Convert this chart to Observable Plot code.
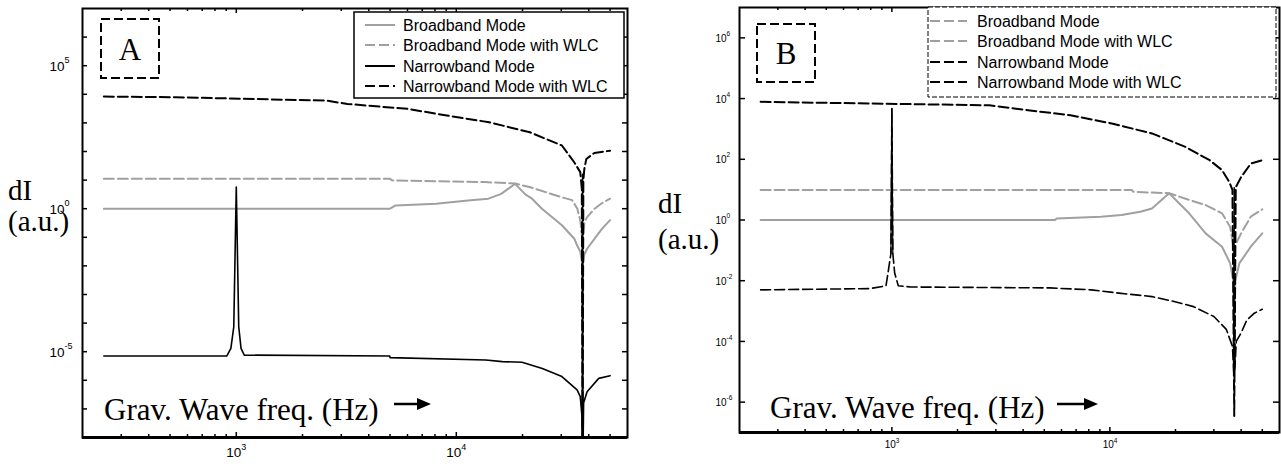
<!DOCTYPE html>
<html><head><meta charset="utf-8">
<script src="https://cdn.jsdelivr.net/npm/d3@7"></script>
<script src="https://cdn.jsdelivr.net/npm/@observablehq/plot@0.6"></script>
<style>
body{margin:0;background:#fff;}
#wrap{position:relative;width:1281px;height:468px;overflow:hidden;background:#fff;}
#wrap > svg{position:absolute;top:0;}
</style></head><body><div id="wrap"></div>
<script>
// ---------- data (frequency in Hz, dI in a.u.) ----------
const seriesNames = ["Broadband Mode", "Broadband Mode with WLC", "Narrowband Mode", "Narrowband Mode with WLC"];

// Panel A
const aBroadF = [250, 5000, 5300, 8100, 11300, 14000, 16000, 18500, 20600, 22100, 24500, 30200, 34400, 35400, 36600, 37300, 37500, 37700, 38200, 39300, 46000, 50000];
const aBroadV = [1, 1, 1.3, 1.48, 1.95, 2.24, 3.31, 7.41, 3.16, 2.24, 1.0, 0.263, 0.089, 0.0525, 0.0316, 0.0126, 7.1e-5, 0.0126, 0.0251, 0.0398, 0.2, 0.398];

const aBroadWlcF = [250, 5000, 5100, 13500, 18500, 21500, 25500, 30200, 33600, 35500, 36600, 37300, 37500, 37700, 38200, 39300, 42500, 46000, 50000];
const aBroadWlcV = [11.1, 11.1, 9.8, 8.5, 7.6, 5.75, 3.8, 2.5, 2.0, 1.0, 0.39, 0.1, 0.016, 0.1, 0.32, 0.51, 1.0, 1.58, 2.24];

const aNarrowF = [250, 906, 945, 974, 1000, 1026, 1051, 1087, 4980, 5000, 13600, 16200, 19900, 24600, 30200, 35400, 36600, 37200, 37400, 37500, 37600, 37900, 39300, 44400, 50000];
const aNarrowV = [7.1e-6, 7.1e-6, 1.3e-5, 7.4e-5, 5.75, 7.4e-5, 1.3e-5, 7.6e-6, 7.1e-6, 6.2e-6, 5.1e-6, 4.5e-6, 4.3e-6, 2.6e-6, 1.35e-6, 4.6e-7, 2.7e-7, 6.3e-8, 1e-9, 16, 1e-9, 1.6e-7, 4e-7, 1.17e-6, 1.45e-6];

const aNarrowWlcF = [250, 530, 2570, 3200, 6000, 9200, 14100, 21600, 30200, 34300, 36600, 37200, 37500, 37800, 38200, 39000, 42400, 50000];
const aNarrowWlcV = [8300, 7900, 6000, 4600, 3100, 1780, 1050, 470, 162, 43, 19, 5, 1e-9, 10, 25, 55, 89, 107];

// Panel B
const bBroadF = [250, 5600, 5700, 9100, 11300, 13800, 15600, 18700, 23100, 27500, 32700, 35600, 36800, 37200, 37600, 39300, 44300, 50000];
const bBroadV = [1, 1, 1.12, 1.29, 1.45, 1.86, 2.4, 7.6, 1.66, 0.363, 0.132, 0.038, 0.01, 1.15e-4, 0.01, 0.038, 0.132, 0.363];

const bBroadWlcF = [250, 12600, 12800, 18700, 23100, 27500, 32700, 35600, 36800, 37200, 37600, 40000, 44300, 50000];
const bBroadWlcV = [9.8, 9.8, 8.5, 7.6, 4.6, 3.1, 1.66, 0.6, 0.15, 0.03, 0.15, 0.363, 1.29, 2.24];

const bNarrowF = [250, 794, 940, 960, 990, 1000, 1010, 1030, 1070, 1220, 5300, 8200, 11000, 15600, 19500, 24200, 30000, 34200, 36500, 37000, 37200, 37400, 38000, 40000, 42500, 46000, 50000];
const bNarrowV = [0.005, 0.0055, 0.0068, 0.018, 0.079, 4700, 0.079, 0.018, 0.0068, 0.0062, 0.0058, 0.005, 0.0039, 0.003, 0.0021, 0.0014, 6.6e-4, 2.5e-4, 6.9e-5, 1e-5, 12, 1e-5, 1e-4, 1.9e-4, 5.1e-4, 8.5e-4, 1.15e-3];

const bNarrowWlcF = [250, 2800, 4300, 6600, 10200, 15600, 22200, 28700, 32700, 35300, 36500, 37200, 37800, 40000, 44300, 50000];
const bNarrowWlcV = [7800, 6000, 4070, 2820, 1510, 710, 257, 93, 44, 18, 9.8, 3.5e-7, 12, 26, 72, 93];

// Ticks and tick labels
const xMinorTicks = [300, 400, 500, 600, 700, 800, 900, 2000, 3000, 4000, 5000, 6000, 7000, 8000, 9000, 20000, 30000, 40000, 50000];
const xMajorTicks = [1000, 10000];
const xLabelValues = [1000, 10000];
const xLabelExps = ["3", "4"];
const aYTicks = [1e-7, 1e-6, 1e-5, 1e-4, 1e-3, 1e-2, 1e-1, 1, 1e1, 1e2, 1e3, 1e4, 1e5, 1e6];
const aYLabelValues = [1e5, 1, 1e-5];
const aYLabelExps = ["5", "0", "-5"];
const bYTicks = [1e-6, 1e-4, 1e-2, 1, 1e2, 1e4, 1e6];
const bYLabelValues = [1e-6, 1e-4, 1e-2, 1, 1e2, 1e4, 1e6];
const bYLabelExps = ["-6", "-4", "-2", "0", "2", "4", "6"];

// ---------- helpers ----------
const SANS = "Liberation Sans, Arial, sans-serif";
const SERIF = "Liberation Serif, Times New Roman, serif";
const GRAY = "#a0a0a0";
const DASH = "10,4";
const rows = (f, v) => f.map((x, i) => ({f: x, v: v[i]}));
const labels = (vals, exps) => vals.map((v, i) => ({v, e: exps[i]}));

function panel(cfg) {
  const innerW = cfg.width - cfg.ml - cfg.mr;
  const innerH = cfg.height - cfg.mt - cfg.mb;
  const s = cfg.series;
  const marks = [
    Plot.line(s[0], {x: "f", y: "v", stroke: GRAY, strokeWidth: 2, strokeDasharray: cfg.dash[0], clip: true}),
    Plot.line(s[1], {x: "f", y: "v", stroke: GRAY, strokeWidth: 2, strokeDasharray: cfg.dash[1], clip: true}),
    Plot.line(s[3], {x: "f", y: "v", stroke: "#000", strokeWidth: 2, strokeDasharray: cfg.dash[3], clip: true}),
    Plot.line(s[2], {x: "f", y: "v", stroke: "#000", strokeWidth: 1.6, strokeDasharray: cfg.dash[2], clip: true}),
  ];
  if (cfg.spikeSolid) {
    marks.push(Plot.line(s[2].filter(d => d.f >= 990 && d.f <= 1010), {x: "f", y: "v", stroke: "#000", strokeWidth: 1.2, clip: true}));
  }
  marks.push(
    Plot.frame({stroke: "#000", strokeWidth: 2}),
    Plot.ruleY([cfg.ydomain[0]], {stroke: "#000", strokeWidth: 3}),
    // x ticks (bottom and top, inward)
    Plot.ruleX(xMinorTicks, {insetTop: innerH - 3, stroke: "#000", strokeWidth: 1.5}),
    Plot.ruleX(xMinorTicks, {insetBottom: innerH - 3, stroke: "#000", strokeWidth: 1.5}),
    Plot.ruleX(xMajorTicks, {insetTop: innerH - 5, stroke: "#000", strokeWidth: 1.5}),
    Plot.ruleX(xMajorTicks, {insetBottom: innerH - 5, stroke: "#000", strokeWidth: 1.5}),
    // y ticks (left and right, inward)
    Plot.ruleY(cfg.yticks, {insetRight: innerW - cfg.ytick, stroke: "#000", strokeWidth: 1.5}),
    Plot.ruleY(cfg.yticks, {insetLeft: innerW - cfg.ytick, stroke: "#000", strokeWidth: 1.5}),
    // x tick labels: 10^n
    Plot.text(labels(xLabelValues, xLabelExps), {x: "v", text: () => "10", frameAnchor: "bottom", textAnchor: "end", dx: cfg.xl.dx, dy: cfg.xl.dy, fontSize: cfg.xl.fs, fontFamily: SANS, fill: "#000"}),
    Plot.text(labels(xLabelValues, xLabelExps), {x: "v", text: "e", frameAnchor: "bottom", textAnchor: "start", dx: cfg.xl.dx, dy: cfg.xl.dy - cfg.xl.up, fontSize: cfg.xl.efs, fontFamily: SANS, fill: "#000"}),
    // y tick labels
    Plot.text(cfg.ylabels, {y: "v", text: () => "10", frameAnchor: "left", textAnchor: "end", dx: cfg.yl.dx, dy: cfg.yl.dy, fontSize: cfg.yl.fs, fontFamily: SANS, fill: "#000"}),
    Plot.text(cfg.ylabels, {y: "v", text: "e", frameAnchor: "left", textAnchor: "start", dx: cfg.yl.dx, dy: cfg.yl.dy - cfg.yl.up, fontSize: cfg.yl.efs, fontFamily: SANS, fill: "#000"})
  );
  const svg = Plot.plot({
    width: cfg.width, height: cfg.height,
    marginLeft: cfg.ml, marginRight: cfg.mr, marginTop: cfg.mt, marginBottom: cfg.mb,
    x: {type: "log", domain: [200, 60000], axis: null},
    y: {type: "log", domain: cfg.ydomain, axis: null},
    style: {background: "transparent", overflow: "visible"},
    marks
  });
  svg.style.left = cfg.left + "px";
  return svg;
}

const wrap = document.getElementById("wrap");

const svgA = panel({
  left: 0, width: 640, height: 468, ml: 82, mr: 13, mt: 8, mb: 31,
  ydomain: [1e-8, 1e7],
  series: [rows(aBroadF, aBroadV), rows(aBroadWlcF, aBroadWlcV), rows(aNarrowF, aNarrowV), rows(aNarrowWlcF, aNarrowWlcV)],
  dash: [null, DASH, null, DASH],
  yticks: aYTicks, ytick: 5,
  ylabels: labels(aYLabelValues, aYLabelExps),
  xl: {dx: 5, dy: 19, up: 7, fs: 13.5, efs: 9},
  yl: {dx: -18, dy: 1, up: 7, fs: 13.5, efs: 9}
});
wrap.appendChild(svgA);

const svgB = panel({
  left: 640, width: 641, height: 468, ml: 99, mr: 2, mt: 7, mb: 36,
  ydomain: [1e-7, 1e7],
  series: [rows(bBroadF, bBroadV), rows(bBroadWlcF, bBroadWlcV), rows(bNarrowF, bNarrowV), rows(bNarrowWlcF, bNarrowWlcV)],
  dash: [null, DASH, DASH, DASH],
  spikeSolid: true,
  yticks: bYTicks, ytick: 6,
  ylabels: labels(bYLabelValues, bYLabelExps),
  xl: {dx: 4, dy: 15, up: 5, fs: 10, efs: 6.5},
  yl: {dx: -13, dy: 1, up: 5, fs: 10, efs: 6.5}
});
wrap.appendChild(svgB);

// ---------- annotations overlay ----------
const ov = d3.create("svg").attr("width", 1281).attr("height", 468).style("left", "0px").style("pointer-events", "none");

function annot(o) {
  // panel letter box
  ov.append("rect").attr("x", o.box[0]).attr("y", o.box[1]).attr("width", o.box[2]).attr("height", o.box[3])
    .attr("fill", "none").attr("stroke", "#000").attr("stroke-width", 2).attr("stroke-dasharray", "9,4");
  ov.append("text").attr("x", o.box[0] + o.box[2] / 2).attr("y", o.box[1] + o.box[3] / 2 + 11)
    .attr("text-anchor", "middle").attr("font-family", SERIF).attr("font-size", 31).text(o.letter);
  // y title
  ov.append("text").attr("x", o.yt[0]).attr("y", o.yt[1]).attr("font-family", SERIF).attr("font-size", 29).text("dI");
  ov.append("text").attr("x", o.yt[0]).attr("y", o.yt[2]).attr("font-family", SERIF).attr("font-size", 29).text("(a.u.)");
  // x title with arrow
  ov.append("text").attr("x", o.xt[0]).attr("y", o.xt[1]).attr("font-family", SERIF).attr("font-size", 31).text("Grav. Wave freq. (Hz)");
  const ax = o.arrow[0], ay = o.arrow[1], al = o.arrow[2];
  ov.append("line").attr("x1", ax).attr("y1", ay).attr("x2", ax + al - 12).attr("y2", ay).attr("stroke", "#000").attr("stroke-width", 2.5);
  ov.append("path").attr("d", `M${ax + al - 14},${ay - 6}L${ax + al},${ay}L${ax + al - 14},${ay + 6}Z`).attr("fill", "#000");
  // legend
  const L = o.legend;
  ov.append("rect").attr("x", L.box[0]).attr("y", L.box[1]).attr("width", L.box[2]).attr("height", L.box[3])
    .attr("fill", "#fff").attr("stroke", "#000").attr("stroke-width", L.bw).attr("stroke-dasharray", L.bdash);
  seriesNames.forEach((name, i) => {
    const y = L.rows[i];
    ov.append("line").attr("x1", L.line[0]).attr("x2", L.line[1]).attr("y1", y).attr("y2", y)
      .attr("stroke", i < 2 ? GRAY : "#000").attr("stroke-width", 2).attr("stroke-dasharray", L.dash[i]);
    ov.append("text").attr("x", L.tx).attr("y", y).attr("dy", "0.35em").attr("font-family", SANS).attr("font-size", 16).text(name);
  });
}

annot({
  box: [101, 19, 58, 59], letter: "A",
  yt: [8, 200, 231], xt: [104, 420], arrow: [394, 404, 37],
  legend: {box: [354, 12, 270, 86], bw: 1.5, bdash: null, line: [365, 395], tx: 403, rows: [25, 45, 66, 86], dash: [null, DASH, null, DASH]}
});
annot({
  box: [757, 24, 58, 58], letter: "B",
  yt: [658, 213, 249], xt: [770, 418], arrow: [1057, 404, 41],
  legend: {box: [928, 7, 348, 90], bw: 1, bdash: "5,2", line: [930, 967], tx: 977, rows: [21, 41, 62, 82], dash: [DASH, DASH, DASH, DASH]}
});
wrap.appendChild(ov.node());
</script>
</body></html>
